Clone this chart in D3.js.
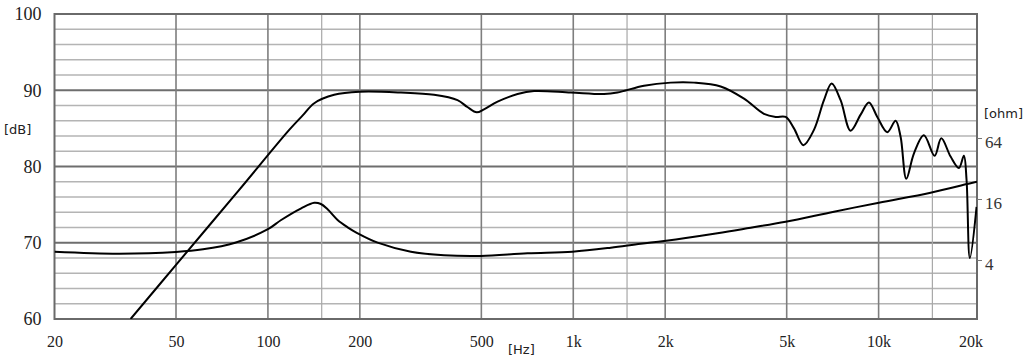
<!DOCTYPE html>
<html>
<head>
<meta charset="utf-8">
<script src="https://cdn.jsdelivr.net/npm/d3@7"></script>
<style>
  html, body { margin: 0; padding: 0; background: #fff; }
  svg { display: block; }
</style>
</head>
<body>
<div id="chart"></div>
<script>
// ---- data ----
const freqTicks = [20, 50, 100, 200, 500, 1000, 2000, 5000, 10000, 20000];
const freqTickLabels = ["20", "50", "100", "200", "500", "1k", "2k", "5k", "10k", "20k"];
const majorGridFreq = [50, 100, 200, 500, 1000, 2000, 5000, 10000];
const minorGridFreq = [150, 1500, 15000];
const dbTicks = [60, 70, 80, 90, 100];
const ohmTicks = [4, 16, 64];

// SPL frequency response [Hz] / [dB]
const splFreq = [35.5, 50, 80, 117.4, 130, 141.8, 164.8, 200, 272.5, 350, 417.7, 450, 483, 510, 565, 657, 744, 981, 1261, 1395, 1705, 2085, 2486, 3039, 3624, 4212, 4601, 4962, 5282, 5670, 6141, 6622, 7017, 7508, 8096, 8732, 9295, 9901, 10680, 11366, 11803, 12322, 13048, 14070, 15253, 16042, 17208, 18316, 19019, 19412, 19901, 20931];
const splDb   = [60.0, 67.1, 76.8, 84.8, 86.7, 88.3, 89.4, 89.8, 89.7, 89.4, 88.7, 87.8, 87.1, 87.5, 88.5, 89.5, 89.9, 89.7, 89.5, 89.7, 90.6, 91.0, 91.0, 90.5, 88.9, 86.9, 86.5, 86.5, 85.0, 82.8, 84.8, 88.7, 90.9, 88.7, 84.7, 86.8, 88.4, 86.5, 84.5, 86.0, 83.9, 78.4, 81.7, 84.1, 81.4, 83.7, 81.3, 79.8, 81.4, 78.2, 68.0, 74.7];

// Impedance [Hz] / [ohm]
const impFreq = [20, 32.4, 50, 61.3, 78.1, 100, 110.5, 128.5, 141.8, 149.1, 156.8, 169.1, 182.4, 196.7, 228.7, 293.9, 377.6, 498, 708, 994, 1327, 1663, 1983, 2965, 3811, 4962, 7141, 10024, 14800, 19512, 21000];
const impOhm  = [4.83, 4.62, 4.80, 5.10, 5.93, 8.05, 9.93, 12.95, 14.71, 14.28, 12.66, 9.93, 8.41, 7.34, 5.93, 4.83, 4.45, 4.38, 4.66, 4.83, 5.29, 5.80, 6.16, 7.34, 8.33, 9.55, 11.99, 14.71, 18.47, 22.5, 23.7];

// ---- layout ----
const W = 1024, H = 357;
const pL = 54.5, pR = 977, pT = 14, pB = 319;

const svg = d3.select("#chart").append("svg")
  .attr("width", W).attr("height", H)
  .attr("viewBox", `0 0 ${W} ${H}`);

svg.append("rect").attr("width", W).attr("height", H).attr("fill", "#fff");

const x = d3.scaleLog().domain([20, 21000]).range([pL, pR]);
const y = d3.scaleLinear().domain([60, 100]).range([pB, pT]);
const yOhm = d3.scaleLog().domain([4, 64]).range([260, 138]);

// horizontal grid (every 2 dB)
const hLines = d3.range(62, 100, 2);
svg.append("g").selectAll("line").data(hLines).join("line")
  .attr("x1", pL).attr("x2", pR)
  .attr("y1", d => y(d)).attr("y2", d => y(d))
  .attr("stroke", d => d % 10 === 0 ? "#6e6e6e" : "#b4b4b4")
  .attr("stroke-width", d => d % 10 === 0 ? 1.8 : 1.3);

// vertical grid
svg.append("g").selectAll("line").data(minorGridFreq).join("line")
  .attr("x1", d => x(d)).attr("x2", d => x(d))
  .attr("y1", pT).attr("y2", pB)
  .attr("stroke", "#a8a8a8").attr("stroke-width", 1.2);
svg.append("g").selectAll("line").data(majorGridFreq).join("line")
  .attr("x1", d => x(d)).attr("x2", d => x(d))
  .attr("y1", pT).attr("y2", pB)
  .attr("stroke", "#7e7e7e").attr("stroke-width", 1.6);

// frame
svg.append("rect")
  .attr("x", pL).attr("y", pT)
  .attr("width", pR - pL).attr("height", pB - pT)
  .attr("fill", "none").attr("stroke", "#6a6a6a").attr("stroke-width", 2);

const serif = "'Liberation Serif', 'DejaVu Serif', serif";
const sans = "'DejaVu Sans', 'Liberation Sans', sans-serif";

// left axis
const gL = svg.append("g").attr("transform", `translate(${pL},0)`)
  .call(d3.axisLeft(y).tickValues(dbTicks).tickSize(0).tickPadding(13).tickFormat(d3.format("d")));
gL.select(".domain").remove();
gL.selectAll("text").attr("font-family", serif).attr("font-size", 18).attr("fill", "#222");

// bottom axis
const gB = svg.append("g").attr("transform", `translate(0,${pB})`)
  .call(d3.axisBottom(x).tickValues(freqTicks).tickSize(0).tickPadding(17)
    .tickFormat((d, i) => freqTickLabels[i]));
gB.select(".domain").remove();
gB.selectAll("text").attr("font-family", serif).attr("font-size", 16).attr("fill", "#222");

// right axis (impedance)
const gR = svg.append("g").attr("transform", `translate(${pR},0)`)
  .call(d3.axisRight(yOhm).tickValues(ohmTicks).tickSize(5).tickPadding(3).tickFormat(d3.format("d")));
gR.select(".domain").remove();
gR.selectAll("line").attr("stroke", "#777");
gR.selectAll("text").attr("font-family", serif).attr("font-size", 17).attr("fill", "#333").attr("dy", "0.56em");

// unit labels
svg.append("text").attr("x", 4).attr("y", 134).text("[dB]")
  .attr("font-family", sans).attr("font-size", 13).attr("fill", "#222");
svg.append("text").attr("x", 984).attr("y", 118).text("[ohm]")
  .attr("font-family", sans).attr("font-size", 13).attr("fill", "#222");
svg.append("text").attr("x", 508).attr("y", 354).text("[Hz]")
  .attr("font-family", sans).attr("font-size", 13).attr("fill", "#222");

// curves
svg.append("clipPath").attr("id", "plotclip")
  .append("rect").attr("x", pL).attr("y", pT - 2)
  .attr("width", pR - pL).attr("height", pB - pT + 2);

const splData = splFreq.map((f, i) => [f, splDb[i]]);
const impData = impFreq.map((f, i) => [f, impOhm[i]]);

svg.append("path").datum(impData)
  .attr("clip-path", "url(#plotclip)")
  .attr("fill", "none").attr("stroke", "#000").attr("stroke-width", 2)
  .attr("d", d3.line().x(d => x(d[0])).y(d => yOhm(d[1])).curve(d3.curveCatmullRom.alpha(0.5)));

svg.append("path").datum(splData)
  .attr("clip-path", "url(#plotclip)")
  .attr("fill", "none").attr("stroke", "#000").attr("stroke-width", 2)
  .attr("stroke-linejoin", "round")
  .attr("d", d3.line().x(d => x(d[0])).y(d => y(d[1])).curve(d3.curveCatmullRom.alpha(0.5)));
</script>
</body>
</html>
